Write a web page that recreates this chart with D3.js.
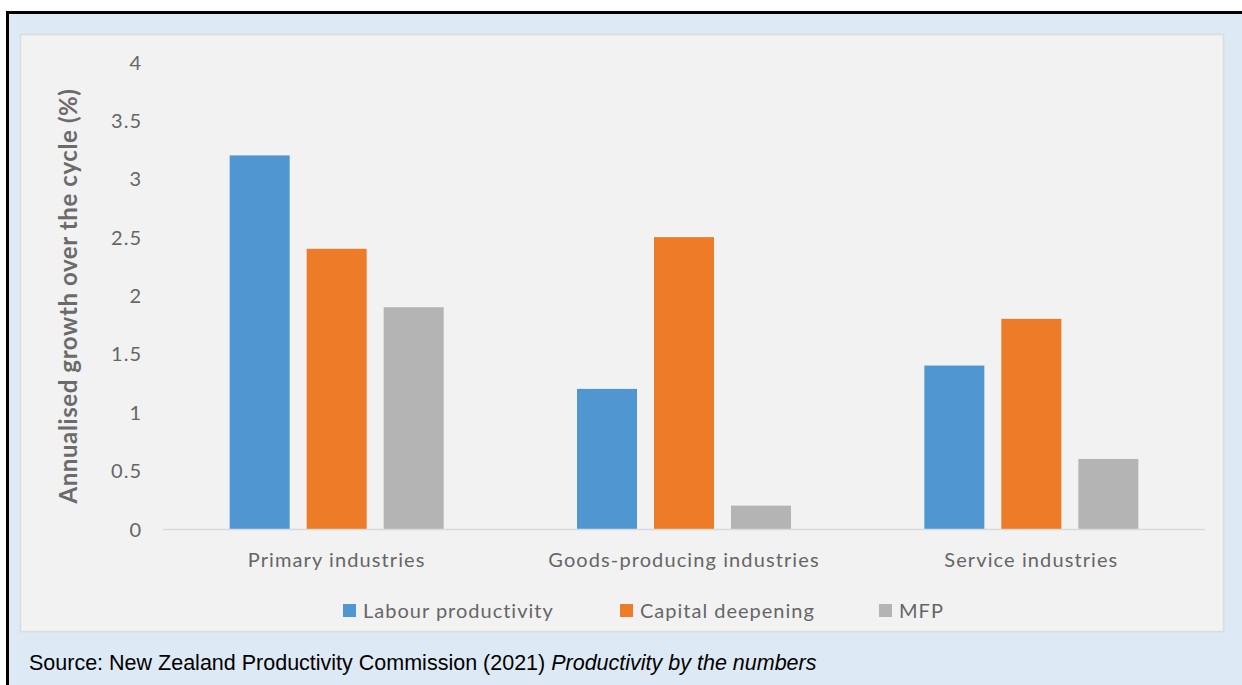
<!DOCTYPE html>
<html><head><meta charset="utf-8">
<script src="https://cdn.jsdelivr.net/npm/d3@7"></script>
<style>html,body{margin:0;padding:0;background:#fff;}svg{display:block;}</style>
</head><body>
<script>
const categories = ["Primary industries", "Goods-producing industries", "Service industries"];
const seriesNames = ["Labour productivity", "Capital deepening", "MFP"];
const labourProductivity = [3.2, 1.2, 1.4];
const capitalDeepening = [2.4, 2.5, 1.8];
const mfp = [1.9, 0.2, 0.6];
const yTicks = [0, 0.5, 1, 1.5, 2, 2.5, 3, 3.5, 4];
const colors = ["#5097d2", "#ed7b27", "#b4b4b4"];
const seriesValues = [labourProductivity, capitalDeepening, mfp];

const W = 1242, H = 685;
const svg = d3.select("body").append("svg").attr("width", W).attr("height", H);
const font = "Lato, 'Open Sans', sans-serif";

// outer background
svg.append("rect").attr("x",0).attr("y",0).attr("width",W).attr("height",H).attr("fill","#fff");
svg.append("rect").attr("x",8).attr("y",12).attr("width",W-8).attr("height",H-12).attr("fill","#dde9f5");
svg.append("line").attr("x1",6).attr("x2",W).attr("y1",12.5).attr("y2",12.5).attr("stroke","#000").attr("stroke-width",3);
svg.append("line").attr("x1",7.5).attr("x2",7.5).attr("y1",11).attr("y2",H).attr("stroke","#000").attr("stroke-width",3);

// panel
svg.append("rect").attr("x",20.5).attr("y",34.5).attr("width",1203).attr("height",597)
  .attr("fill","#f2f2f2").attr("stroke","#dcdcdc").attr("stroke-width",1.5);

const x0 = 163, x1 = 1205, yTop = 62, yBot = 529;
const x = d3.scaleBand().domain(categories).range([x0, x1]).paddingInner(0).paddingOuter(0);
const y = d3.scaleLinear().domain([0, 4]).range([yBot, yTop]);
const barW = 60, gap = 17;

// y axis ticks
const yAxis = d3.axisLeft(y).tickValues(yTicks).tickSize(0).tickPadding(0).tickFormat(d => String(d));
const ga = svg.append("g").attr("transform", `translate(141,0)`).call(yAxis);
ga.select(".domain").remove();
ga.selectAll("text").attr("font-family", font).attr("font-size", 20).attr("fill", "#666")
  .attr("letter-spacing", 1).attr("x", 1).attr("dy","0.35em");

// bars
categories.forEach((c, i) => {
  const cx = x(c) + x.bandwidth()/2;
  seriesValues.forEach((vals, s) => {
    const bx = cx + (s - 1) * (barW + gap) - barW/2;
    svg.append("rect").attr("x", bx).attr("y", y(vals[i])).attr("width", barW)
      .attr("height", y(0) - y(vals[i])).attr("fill", colors[s]);
  });
});

// x axis line
svg.append("line").attr("x1", x0).attr("x2", x1).attr("y1", yBot+0.5).attr("y2", yBot+0.5)
  .attr("stroke", "#d9d9d9").attr("stroke-width", 1.5);
const xAxis = d3.axisBottom(x).tickSize(0).tickPadding(0);
const gx = svg.append("g").attr("transform", `translate(0,${yBot})`).call(xAxis);
gx.select(".domain").remove();
gx.selectAll("text").attr("font-family", font).attr("font-size", 20).attr("fill", "#666")
  .attr("letter-spacing", 1.1).attr("y", 38).attr("dy", 0);

// y title
svg.append("text").attr("transform", `translate(77,296) rotate(-90)`).attr("text-anchor","middle")
  .attr("font-family", font).attr("font-size", 24).attr("font-weight", "bold").attr("fill", "#6b6b6b")
  .attr("letter-spacing", 0.6)
  .text("Annualised growth over the cycle (%)");

// legend
const legX = [343, 620, 879];
seriesNames.forEach((n, s) => {
  svg.append("rect").attr("x", legX[s]).attr("y", 604).attr("width", 13).attr("height", 13).attr("fill", colors[s]);
  svg.append("text").attr("x", legX[s] + 20).attr("y", 618).attr("font-family", font).attr("font-size", 20)
    .attr("letter-spacing", 1).attr("fill", "#666").text(n);
});

// source
const src = svg.append("text").attr("x", 29).attr("y", 670).attr("font-family", "'Liberation Sans', Arial, sans-serif")
  .attr("font-size", 21.5).attr("letter-spacing", 0).attr("fill", "#000");
src.append("tspan").text("Source: New Zealand Productivity Commission (2021) ");
src.append("tspan").attr("font-style","italic").text("Productivity by the numbers");
</script>
</body></html>
